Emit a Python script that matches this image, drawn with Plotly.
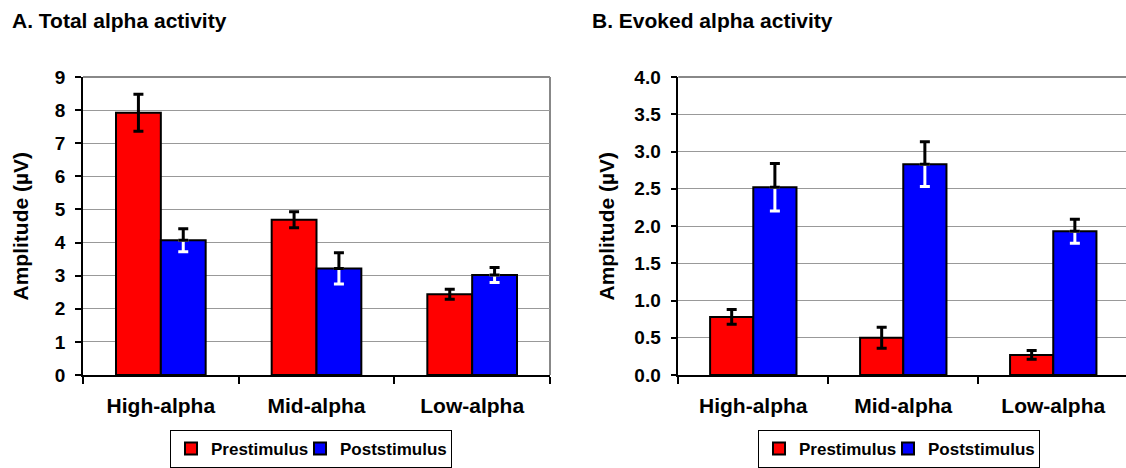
import plotly.graph_objects as go

categories = ["High-alpha", "Mid-alpha", "Low-alpha"]

total_pre = [7.92, 4.69, 2.44]
total_pre_err = [0.56, 0.24, 0.15]
total_post = [4.07, 3.22, 3.02]
total_post_err = [0.35, 0.47, 0.23]

evoked_pre = [0.78, 0.50, 0.27]
evoked_pre_err = [0.10, 0.14, 0.06]
evoked_post = [2.52, 2.83, 1.93]
evoked_post_err = [0.32, 0.30, 0.16]

series_names = ["Prestimulus", "Poststimulus"]
panel_titles = ["A. Total alpha activity", "B. Evoked alpha activity"]
y_title = "Amplitude (µV)"

W, H = 1126, 468
RED = "#ff0000"
BLUE = "#0000ff"
FONT = "Liberation Sans"
BW = 0.288
ZERO = [0, 0, 0]


def add_panel(fig, xref, yref, pre, pre_err, post, post_err, legend):
    # Prestimulus bars
    fig.add_trace(go.Bar(
        x=categories, y=pre, name=series_names[0], width=BW, offset=-BW,
        marker=dict(color=RED, line=dict(color="black", width=2)),
        error_y=dict(type="data", array=pre_err, color="black", thickness=3, width=5),
        xaxis=xref, yaxis=yref, legend=legend, legendwidth=84, hoverinfo="skip"))
    # Poststimulus bars
    fig.add_trace(go.Bar(
        x=categories, y=post, name=series_names[1], width=BW, offset=0,
        marker=dict(color=BLUE, line=dict(color="black", width=2)),
        xaxis=xref, yaxis=yref, legend=legend, legendwidth=106, hoverinfo="skip"))
    # white lower part of error bars (inside blue bars)
    fig.add_trace(go.Bar(
        x=categories, y=post, width=BW, offset=0, showlegend=False,
        marker=dict(color="rgba(0,0,0,0)", line=dict(width=0)),
        error_y=dict(type="data", symmetric=False, array=ZERO, arrayminus=post_err,
                     color="white", thickness=3, width=5),
        xaxis=xref, yaxis=yref, hoverinfo="skip"))
    # black upper part of error bars
    fig.add_trace(go.Bar(
        x=categories, y=post, width=BW, offset=0, showlegend=False,
        marker=dict(color="rgba(0,0,0,0)", line=dict(width=0)),
        error_y=dict(type="data", symmetric=False, array=post_err, arrayminus=ZERO,
                     color="black", thickness=3, width=5),
        xaxis=xref, yaxis=yref, hoverinfo="skip"))


fig = go.Figure()
add_panel(fig, "x", "y", total_pre, total_pre_err, total_post, total_post_err, "legend")
add_panel(fig, "x2", "y2", evoked_pre, evoked_pre_err, evoked_post, evoked_post_err, "legend2")

y0 = 1 - 375 / H
y1 = 1 - 77 / H

tickfont = dict(family=FONT, size=19, color="black", weight="bold")
xtickfont = dict(family=FONT, size=21, color="black", weight="bold")

common_x = dict(type="category", showgrid=False, showline=True, linecolor="black", linewidth=1.5,
                ticks="outside", tickson="boundaries", ticklen=7, tickcolor="black", tickwidth=1.5,
                tickfont=xtickfont, ticklabelstandoff=11, automargin=False, fixedrange=True)
common_y = dict(showgrid=True, gridcolor="#999999", gridwidth=1, zeroline=False,
                showline=True, linecolor="black", linewidth=1.5,
                ticks="outside", ticklen=6, tickcolor="black", tickwidth=1.5,
                tickfont=tickfont, ticklabelstandoff=6, automargin=False, fixedrange=True)

legend_common = dict(y=0, xanchor="left", yanchor="bottom", orientation="h",
                     bordercolor="black", borderwidth=1, bgcolor="white",
                     font=dict(family=FONT, size=17, color="black", weight="bold"),
                     itemclick=False, itemdoubleclick=False)

fig.update_layout(
    width=W, height=H,
    margin=dict(l=0, r=0, t=0, b=0),
    paper_bgcolor="white", plot_bgcolor="white",
    barmode="overlay",
    xaxis=dict(domain=[83 / W, 550 / W], range=[-0.5, 2.5], anchor="y", **common_x),
    yaxis=dict(domain=[y0, y1], range=[0, 9], dtick=1, anchor="x", **common_y),
    xaxis2=dict(domain=[678.3 / W, 1.0], range=[-0.5, 2.485], anchor="y2", **common_x),
    yaxis2=dict(domain=[y0, y1], range=[0, 4], dtick=0.5, tickformat=".1f", anchor="x2", **common_y),
    legend=dict(x=170 / W, **legend_common),
    legend2=dict(x=758 / W, **legend_common),
    showlegend=True,
)

# gray border on top and right of panel A, top of panel B
fig.add_shape(type="line", xref="x domain", yref="y domain", x0=0, x1=1, y0=1, y1=1,
              line=dict(color="#888888", width=2), layer="below")
fig.add_shape(type="line", xref="x domain", yref="y domain", x0=1, x1=1, y0=0, y1=1,
              line=dict(color="#888888", width=2), layer="below")
fig.add_shape(type="line", xref="x2 domain", yref="y2 domain", x0=0, x1=1, y0=1, y1=1,
              line=dict(color="#888888", width=2), layer="below")

# panel titles
for tx, t in zip([10 / W, 590 / W], panel_titles):
    fig.add_annotation(text=t, x=tx, y=1 - 21 / H, xref="paper", yref="paper",
                       xanchor="left", yanchor="middle", showarrow=False,
                       font=dict(family=FONT, size=21, color="black", weight="bold"))

# y axis titles
for tx in [20 / W, 606 / W]:
    fig.add_annotation(text=y_title, x=tx, y=1 - 226.5 / H, xref="paper", yref="paper",
                       xanchor="center", yanchor="middle", showarrow=False, textangle=-90,
                       font=dict(family=FONT, size=21, color="black", weight="bold"))

fig.write_html("out.html", config=dict(displayModeBar=False))
